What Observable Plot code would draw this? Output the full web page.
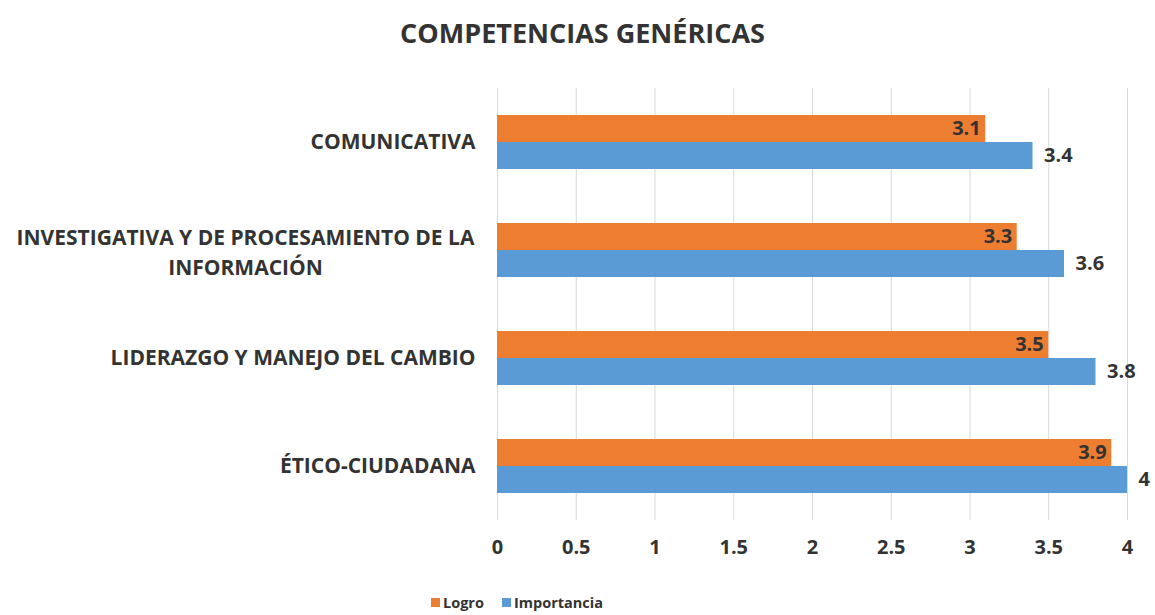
<!DOCTYPE html>
<html><head><meta charset="utf-8">
<script src="https://cdn.jsdelivr.net/npm/d3@7"></script>
<script src="https://cdn.jsdelivr.net/npm/@observablehq/plot@0.6"></script>
<style>
body{margin:0;background:#fff;font-family:"Open Sans",sans-serif;width:1155px;height:615px;overflow:hidden;position:relative}
#title{height:60px;line-height:66px;text-align:center;font-weight:bold;font-size:27px;color:#333;padding-left:10px;box-sizing:border-box}
#legend{position:absolute;left:431px;top:593px;display:flex;align-items:center;font-weight:bold;font-size:14.5px;color:#333}
#legend .sw{width:9px;height:9px;display:inline-block;margin-right:3px}
#legend .item{display:flex;align-items:center;margin-right:18px}
</style></head><body>
<div id="title">COMPETENCIAS GENÉRICAS</div>
<div id="chart"></div>
<div id="legend"></div>
<script>
const categories = ["COMUNICATIVA","INVESTIGATIVA Y DE PROCESAMIENTO DE LA\nINFORMACIÓN","LIDERAZGO Y MANEJO DEL CAMBIO","ÉTICO-CIUDADANA"];
const series = ["Logro","Importancia"];
const logro = [3.1,3.3,3.5,3.9];
const importancia = [3.4,3.6,3.8,4];
const xTicks = [0,0.5,1,1.5,2,2.5,3,3.5,4];
const colors = ["#ED7D31","#5B9BD5"];

const data = categories.flatMap((c,i)=>[
  {cat:c, series:"Logro", value:logro[i]},
  {cat:c, series:"Importancia", value:importancia[i]}
]);
const single = categories.filter(c=>!c.includes("\n"));
const multi = categories.filter(c=>c.includes("\n"));

const chart = Plot.plot({
  width:1155, height:505,
  marginLeft:497, marginRight:28, marginTop:28, marginBottom:45,
  style:{fontFamily:"Open Sans", fontSize:"20px", fontWeight:"bold", color:"#333", background:"#fff"},
  x:{domain:[0,4], ticks:xTicks, tickFormat:d=>String(d), label:null, tickSize:0, tickPadding:19},
  y:{domain:series, paddingInner:0, paddingOuter:1, axis:null},
  fy:{domain:categories, padding:0, axis:null},
  color:{domain:series, range:colors},
  marks:[
    Plot.gridX(xTicks, {stroke:"#d9d9d9", strokeOpacity:1, strokeWidth:1}),
    Plot.barX(data, {x:"value", y:"series", fy:"cat", fill:"series"}),
    Plot.text(data.filter(d=>d.series==="Logro"), {x:"value", y:"series", fy:"cat", text:d=>String(d.value), textAnchor:"end", dx:-5, fontWeight:"bold", fill:"#333", fontSize:20}),
    Plot.text(data.filter(d=>d.series==="Importancia"), {x:"value", y:"series", fy:"cat", text:d=>String(d.value), textAnchor:"start", dx:11, fontWeight:"bold", fill:"#333", fontSize:20}),
    Plot.text(single, {fy:d=>d, text:d=>d, frameAnchor:"left", textAnchor:"end", dx:-22, fontWeight:"bold", fill:"#333", fontSize:21}),
    Plot.text(multi, {fy:d=>d, text:d=>d, frameAnchor:"left", textAnchor:"middle", dx:-252, lineHeight:1.45, fontWeight:"bold", fill:"#333", fontSize:21})
  ]
});
document.getElementById("chart").appendChild(chart);

const legend = document.getElementById("legend");
series.forEach((s,i)=>{
  const it = document.createElement("span"); it.className="item";
  const sw = document.createElement("span"); sw.className="sw"; sw.style.background=colors[i];
  it.appendChild(sw); it.appendChild(document.createTextNode(s));
  legend.appendChild(it);
});
</script>
</body></html>
